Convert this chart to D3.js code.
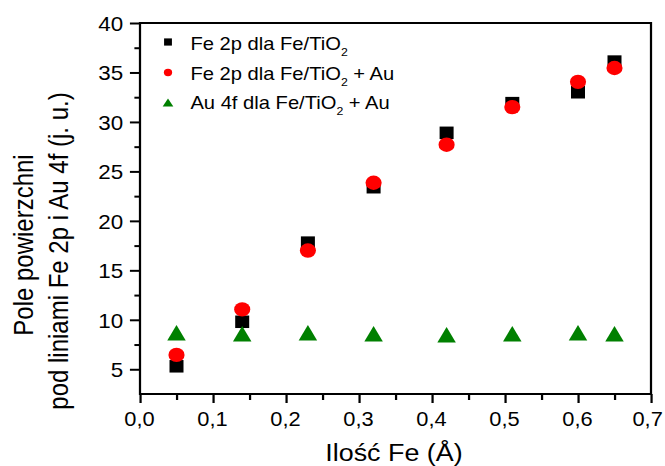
<!DOCTYPE html>
<html>
<head>
<meta charset="utf-8">
<script src="https://cdn.jsdelivr.net/npm/d3@7"></script>
<style>
  html, body { margin: 0; padding: 0; background: #fff; }
  svg { display: block; font-family: "Liberation Sans", Arial, sans-serif; }
</style>
</head>
<body>
<svg id="chart"></svg>
<script>
// ---- data ----
const feAmount = [0.05, 0.14, 0.23, 0.32, 0.42, 0.51, 0.60, 0.65];
const fe2pFeTiO2 = [5.3, 9.8, 17.8, 23.4, 28.9, 31.9, 33.0, 36.1];
const fe2pFeTiO2Au = [6.45, 11.05, 17.0, 23.85, 27.7, 31.5, 34.05, 35.45];
const au4fFeTiO2Au = [8.7, 8.6, 8.7, 8.6, 8.5, 8.6, 8.7, 8.6];
const xTickValues = [0, 0.1, 0.2, 0.3, 0.4, 0.5, 0.6, 0.7];
const xTickLabels = ["0,0", "0,1", "0,2", "0,3", "0,4", "0,5", "0,6", "0,7"];
const xMinorTicks = [0.05, 0.15, 0.25, 0.35, 0.45, 0.55, 0.65];
const yTickValues = [5, 10, 15, 20, 25, 30, 35, 40];
const yMinorTicks = [7.5, 12.5, 17.5, 22.5, 27.5, 32.5, 37.5];
const xTitle = "Ilość Fe (Å)";
const yTitleLines = ["Pole powierzchni", "pod liniami Fe 2p i Au 4f (j. u.)"];

// ---- layout ----
const W = 665, H = 466;
const K = 1.12;               // horizontal stretch of the original picture
const VW = W / K;
const svg = d3.select("#chart")
  .attr("width", W).attr("height", H)
  .attr("viewBox", `0 0 ${VW} ${H}`)
  .attr("preserveAspectRatio", "none");

const x = d3.scaleLinear().domain([0, 0.7]).range([140 / K, 651 / K]);
const y = d3.scaleLinear().domain([2.5, 40]).range([394, 23]);
const [x0, x1] = x.range();
const [yb, yt] = y.range();

// axes
const xAxis = svg.append("g").attr("transform", `translate(0,${yb})`)
  .call(d3.axisBottom(x).tickValues(xTickValues)
    .tickFormat((d, i) => xTickLabels[i]).tickSize(9).tickSizeOuter(0));
xAxis.select(".domain").remove();
xAxis.selectAll("text").attr("y", 32).attr("dy", 0).attr("x", (d, i) => i === xTickValues.length - 1 ? -3.5 : -1)
  .attr("font-size", 19.5).attr("fill", "#000").attr("font-family", "Liberation Sans, Arial, sans-serif");
const xMinor = svg.append("g").attr("transform", `translate(0,${yb})`)
  .call(d3.axisBottom(x).tickValues(xMinorTicks).tickFormat("").tickSize(6).tickSizeOuter(0));
xMinor.select(".domain").remove();

const yAxis = svg.append("g").attr("transform", `translate(${x0},0)`)
  .call(d3.axisLeft(y).tickValues(yTickValues).tickFormat(d3.format("d"))
    .tickSize(9).tickPadding(6).tickSizeOuter(0));
yAxis.select(".domain").remove();
yAxis.selectAll("text").attr("dy", "0.36em")
  .attr("font-size", 20).attr("fill", "#000").attr("font-family", "Liberation Sans, Arial, sans-serif");
const yMinor = svg.append("g").attr("transform", `translate(${x0},0)`)
  .call(d3.axisLeft(y).tickValues(yMinorTicks).tickFormat("").tickSize(5).tickSizeOuter(0));
yMinor.select(".domain").remove();

svg.selectAll(".tick line").attr("stroke", "#000").attr("stroke-width", 2);

// frame
svg.append("rect")
  .attr("x", x0).attr("y", yt).attr("width", x1 - x0).attr("height", yb - yt)
  .attr("fill", "none").attr("stroke", "#000").attr("stroke-width", 2);

// markers
const tri = (w, h) => `M0,${-h / 2}L${w / 2},${h / 2}L${-w / 2},${h / 2}Z`;
const sq = 12.5, cr = 7.2, tw = 16.5, th = 15.5;

svg.append("g").selectAll("rect").data(feAmount).join("rect")
  .attr("x", d => x(d) - sq / 2)
  .attr("y", (d, i) => y(fe2pFeTiO2[i]) - sq / 2)
  .attr("width", sq).attr("height", sq).attr("fill", "#000");

svg.append("g").selectAll("circle").data(feAmount).join("circle")
  .attr("cx", d => x(d)).attr("cy", (d, i) => y(fe2pFeTiO2Au[i]))
  .attr("r", cr).attr("fill", "#ff0000");

svg.append("g").selectAll("path").data(feAmount).join("path")
  .attr("transform", (d, i) => `translate(${x(d)},${y(au4fFeTiO2Au[i])})`)
  .attr("d", tri(tw, th)).attr("fill", "#008000");

// legend
const lg = svg.append("g");
const mx = 150, tx = 170;
lg.append("rect").attr("x", mx - 3.5).attr("y", 42 - 3.6).attr("width", 7).attr("height", 7.2).attr("fill", "#000");
lg.append("circle").attr("cx", mx).attr("cy", 72.5).attr("r", 3.7).attr("fill", "#ff0000");
lg.append("path").attr("transform", `translate(${mx},102.5)`).attr("d", tri(9.5, 8)).attr("fill", "#008000");

const legendRows = [
  { y: 50,  pre: "Fe 2p dla Fe/TiO", post: "" },
  { y: 80,  pre: "Fe 2p dla Fe/TiO", post: " + Au" },
  { y: 109.5, pre: "Au 4f dla Fe/TiO", post: " + Au" }
];
legendRows.forEach(r => {
  const t = lg.append("text").attr("x", tx).attr("y", r.y).attr("font-size", 18).attr("fill", "#000");
  t.append("tspan").text(r.pre);
  t.append("tspan").attr("font-size", 11).attr("dy", 6).text("2");
  if (r.post) t.append("tspan").attr("dy", -6).text(r.post);
});

// titles
svg.append("text").attr("x", 394 / K).attr("y", 461.5).attr("text-anchor", "middle")
  .attr("font-size", 24).attr("fill", "#000").text(xTitle);

const yTitleX = [29.5, 60.5];
const yTitleY = [245, 251];
yTitleLines.forEach((s, i) => {
  svg.append("text")
    .attr("transform", `translate(${yTitleX[i]},${yTitleY[i]}) rotate(-90)`)
    .attr("text-anchor", "middle").attr("font-size", 24).attr("fill", "#000").text(s);
});
</script>
</body>
</html>
